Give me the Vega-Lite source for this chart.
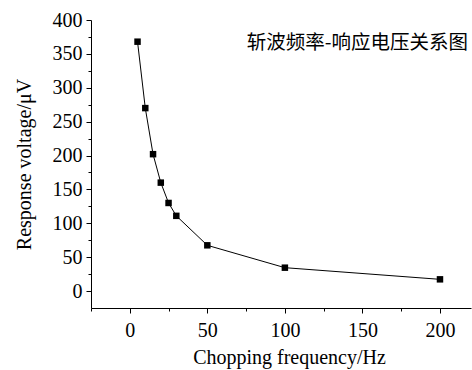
{
  "$schema": "https://vega.github.io/schema/vega-lite/v6.json",
  "width": 380,
  "height": 288,
  "autosize": "none",
  "padding": {"left": 91, "top": 20, "right": 1, "bottom": 62},
  "background": "white",
  "config": {"view": {"stroke": null}, "font": "Liberation Serif"},
  "title": {
    "text": "斩波频率-响应电压关系图",
    "anchor": "end",
    "frame": "group",
    "offset": -43,
    "dx": -3,
    "font": "Noto Sans CJK SC",
    "fontSize": 19.5,
    "fontWeight": "normal",
    "color": "#000000"
  },
  "data": {
    "values": [
      {"f": 5, "v": 368},
      {"f": 10, "v": 270},
      {"f": 15, "v": 202},
      {"f": 20, "v": 160},
      {"f": 25, "v": 130},
      {"f": 30, "v": 111},
      {"f": 50, "v": 67.5},
      {"f": 100, "v": 34.5},
      {"f": 200, "v": 17.3}
    ]
  },
  "encoding": {
    "x": {
      "field": "f",
      "type": "quantitative",
      "title": "Chopping frequency/Hz",
      "scale": {"domain": [-25, 220], "nice": false, "zero": false},
      "axis": {
        "values": [-25, 0, 25, 50, 75, 100, 125, 150, 175, 200],
        "labelExpr": "datum.value % 50 === 0 ? datum.label : ''",
        "tickSize": {"condition": {"test": "datum.value % 50 === 0", "value": 5}, "value": 3},
        "grid": false,
        "domainColor": "#000000",
        "tickColor": "#000000",
        "labelColor": "#000000",
        "titleColor": "#000000",
        "labelFont": "Liberation Serif",
        "titleFont": "Liberation Serif",
        "labelFontSize": 20,
        "titleFontSize": 20,
        "titleFontWeight": "normal",
        "labelPadding": 7,
        "titlePadding": 7,
        "titleX": 198,
        "labelFlush": false,
        "labelOverlap": false
      }
    },
    "y": {
      "field": "v",
      "type": "quantitative",
      "title": "Response voltage/μV",
      "scale": {"domain": [-25, 400], "nice": false, "zero": false},
      "axis": {
        "values": [0, 25, 50, 75, 100, 125, 150, 175, 200, 225, 250, 275, 300, 325, 350, 375, 400],
        "labelExpr": "datum.value % 50 === 0 ? datum.label : ''",
        "tickSize": {"condition": {"test": "datum.value % 50 === 0", "value": 5}, "value": 3},
        "grid": false,
        "domainColor": "#000000",
        "tickColor": "#000000",
        "labelColor": "#000000",
        "titleColor": "#000000",
        "labelFont": "Liberation Serif",
        "titleFont": "Liberation Serif",
        "labelFontSize": 20,
        "titleFontSize": 20,
        "titleFontWeight": "normal",
        "labelPadding": 4,
        "titlePadding": 18,
        "labelFlush": false,
        "labelOverlap": false
      }
    }
  },
  "layer": [
    {"mark": {"type": "line", "color": "#000000", "strokeWidth": 1}},
    {"mark": {"type": "square", "size": 42, "color": "#000000", "filled": true, "opacity": 1}}
  ]
}
